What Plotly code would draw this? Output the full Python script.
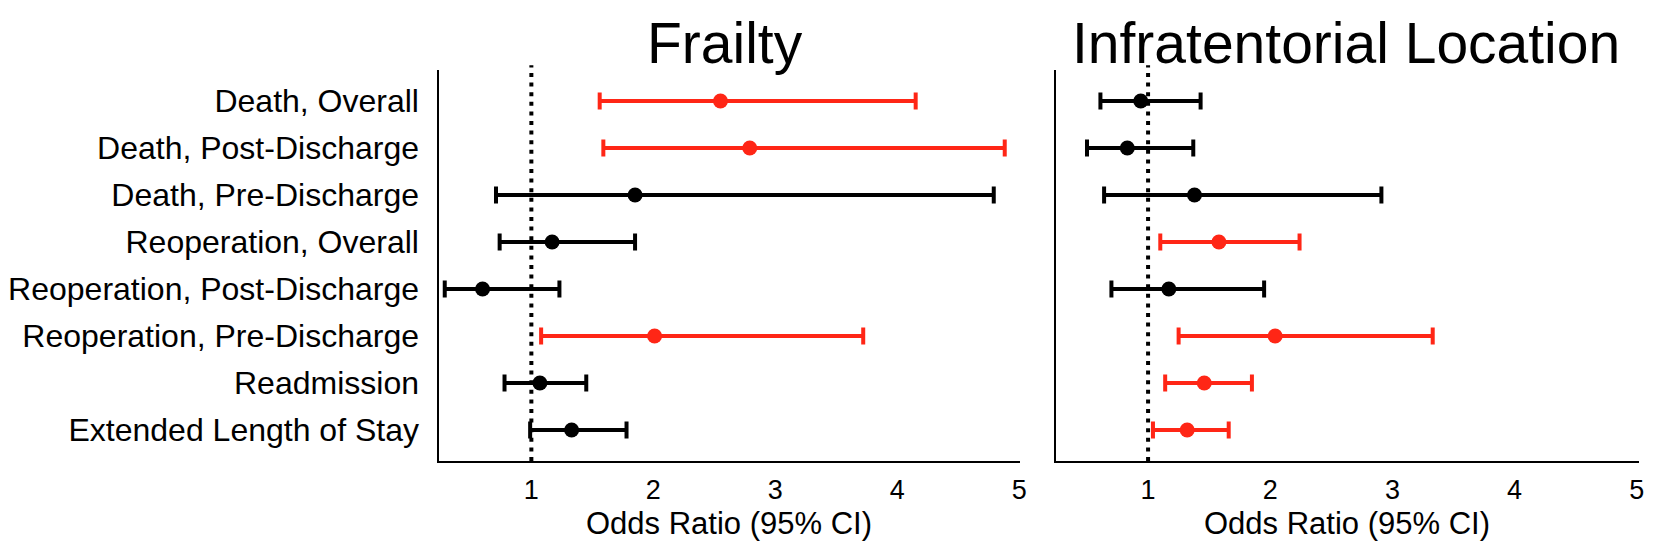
import plotly.graph_objects as go

# outcomes, top to bottom
outcomes = [
    "Death, Overall",
    "Death, Post-Discharge",
    "Death, Pre-Discharge",
    "Reoperation, Overall",
    "Reoperation, Post-Discharge",
    "Reoperation, Pre-Discharge",
    "Readmission",
    "Extended Length of Stay",
]

# Frailty: odds ratio and 95% CI
frailty_or = [2.55, 2.79, 1.85, 1.17, 0.60, 2.01, 1.07, 1.33]
frailty_lo = [1.56, 1.59, 0.71, 0.74, 0.29, 1.08, 0.78, 0.99]
frailty_hi = [4.15, 4.88, 4.79, 1.85, 1.23, 3.72, 1.45, 1.78]
frailty_sig = [True, True, False, False, False, True, False, False]

# Infratentorial location: odds ratio and 95% CI
infra_or = [0.94, 0.83, 1.38, 1.58, 1.17, 2.04, 1.46, 1.32]
infra_lo = [0.61, 0.50, 0.64, 1.10, 0.70, 1.25, 1.14, 1.04]
infra_hi = [1.43, 1.37, 2.91, 2.24, 1.95, 3.33, 1.85, 1.66]
infra_sig = [False, False, False, True, False, True, True, True]

panel_titles = ["Frailty", "Infratentorial Location"]
x_ticks = [1, 2, 3, 4, 5]

FONT = "Liberation Sans, Arial, Helvetica, sans-serif"
RED = "#ff2616"
BLACK = "#000000"

W, H = 1654, 549
OFF = 8  # default body margin of the page


def px_x(p):
    return (p - OFF) / W


def px_y(p):
    return 1 - (p - OFF) / H


fig = go.Figure()

panels = [
    (frailty_or, frailty_lo, frailty_hi, frailty_sig, "x", "y"),
    (infra_or, infra_lo, infra_hi, infra_sig, "x2", "y2"),
]

for ors, los, his, sig, xa, ya in panels:
    for flag, color in [(False, BLACK), (True, RED)]:
        idx = [i for i in range(len(outcomes)) if sig[i] == flag]
        fig.add_trace(go.Scatter(
            x=[ors[i] for i in idx],
            y=[outcomes[i] for i in idx],
            mode="markers",
            marker=dict(color=color, size=15),
            error_x=dict(
                type="data", symmetric=False,
                array=[his[i] - ors[i] for i in idx],
                arrayminus=[ors[i] - los[i] for i in idx],
                color=color, thickness=4, width=8.5,
            ),
            xaxis=xa, yaxis=ya, showlegend=False, cliponaxis=False,
        ))

y_dom = [px_y(461), px_y(70)]
common_x = dict(
    tickvals=x_ticks, ticktext=[str(t) for t in x_ticks],
    showline=True, linecolor="black", linewidth=2,
    showgrid=False, zeroline=False, ticks="",
    tickfont=dict(family=FONT, size=27, color="black"),
    ticklabelstandoff=4,
)
common_y = dict(
    type="category", categoryorder="array", categoryarray=outcomes,
    range=[7.66, -0.66],
    showline=True, linecolor="black", linewidth=2,
    showgrid=False, zeroline=False, ticks="",
    domain=y_dom,
)

fig.update_layout(
    width=W, height=H,
    margin=dict(l=0, r=0, t=0, b=0),
    paper_bgcolor="white", plot_bgcolor="white",
    font=dict(family=FONT, color="black"),
    xaxis=dict(domain=[px_x(433), px_x(1020)], range=[0.246, 5.005], anchor="y", **common_x),
    xaxis2=dict(domain=[px_x(1056), px_x(1646)], range=[0.243, 5.02], anchor="y2", **common_x),
    yaxis=dict(anchor="x", showticklabels=True,
               tickfont=dict(family=FONT, size=32, color="black"),
               ticklabelstandoff=12, **common_y),
    yaxis2=dict(anchor="x2", showticklabels=False, **common_y),
)

# dotted reference line at OR = 1
for xr, yr in [("x", "y domain"), ("x2", "y2 domain")]:
    fig.add_shape(type="line", xref=xr, yref=yr, x0=1, x1=1, y0=0, y1=1.012,
                  line=dict(color="black", width=4, dash="4px,5.6px"), layer="below")

# panel titles
title_x = [px_x(722), px_x(1350)]
for t, xc in zip(panel_titles, title_x):
    fig.add_annotation(text=t, x=xc, y=px_y(77), xref="paper", yref="paper",
                       xanchor="center", yanchor="bottom", showarrow=False,
                       font=dict(family=FONT, size=57, color="black"))

# x axis titles
for xc in [px_x(726), px_x(1351)]:
    fig.add_annotation(text="Odds Ratio (95% CI)", x=xc, y=px_y(523), xref="paper", yref="paper",
                       xanchor="center", yanchor="middle", showarrow=False,
                       font=dict(family=FONT, size=31, color="black"))

fig.write_html("out.html")
